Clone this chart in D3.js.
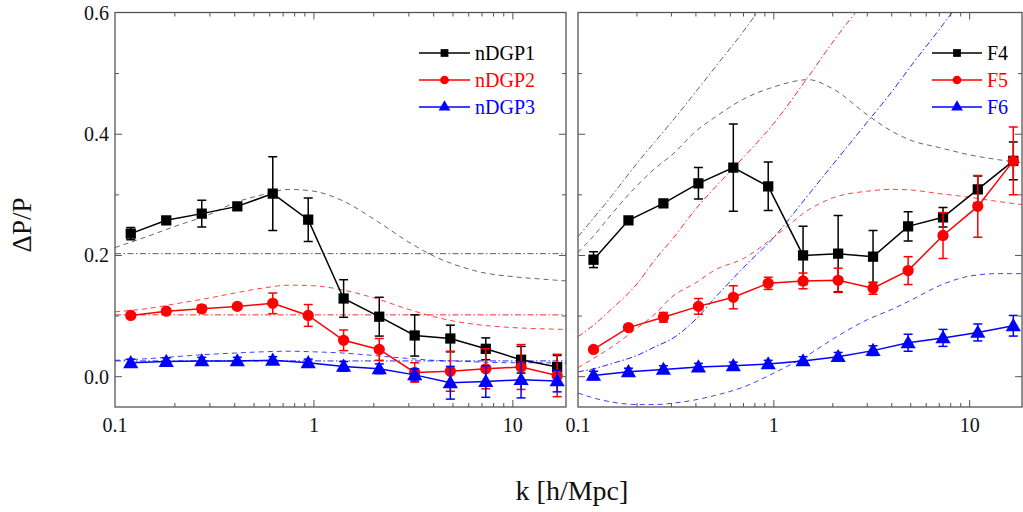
<!DOCTYPE html>
<html><head><meta charset="utf-8">
<script src="https://cdn.jsdelivr.net/npm/d3@7"></script>
<style>body{margin:0;background:#fff}svg{display:block}</style>
</head><body><svg id="c" width="1023" height="512" font-family="Liberation Serif, Times New Roman, DejaVu Serif, serif"></svg>
<script>
// ---- data ----
const k = [0.12, 0.181, 0.273, 0.412, 0.621, 0.936, 1.41, 2.13, 3.21, 4.85, 7.31, 11.0, 16.7];
const nDGP1 = [0.236,0.258,0.269,0.281,0.302,0.259,0.129,0.099,0.068,0.063,0.046,0.028,0.016];
const nDGP1Err = [0.010,0.006,0.022,0.006,0.061,0.036,0.031,0.032,0.034,0.022,0.018,0.022,0.019];
const nDGP2 = [0.101,0.108,0.112,0.116,0.121,0.101,0.060,0.045,0.007,0.009,0.013,0.016,0.002];
const nDGP2Err = [0.004,0.004,0.006,0.005,0.017,0.018,0.017,0.018,0.016,0.033,0.033,0.037,0.035];
const nDGP3 = [0.023,0.025,0.026,0.026,0.027,0.023,0.017,0.013,0.003,-0.010,-0.008,-0.005,-0.007];
const nDGP3Err = [0.006,0.006,0.006,0.006,0.006,0.006,0.008,0.008,0.010,0.027,0.026,0.030,0.018];
const F4 = [0.193,0.258,0.286,0.319,0.345,0.314,0.200,0.203,0.198,0.248,0.263,0.309,0.356];
const F4Err = [0.013,0.006,0.004,0.026,0.072,0.040,0.048,0.063,0.043,0.024,0.016,0.022,0.031];
const F5 = [0.045,0.081,0.098,0.116,0.131,0.154,0.158,0.159,0.146,0.175,0.233,0.281,0.356];
const F5Err = [0.004,0.004,0.008,0.013,0.019,0.010,0.013,0.020,0.010,0.023,0.038,0.051,0.056];
const F6 = [0.002,0.008,0.012,0.016,0.018,0.021,0.026,0.033,0.043,0.056,0.064,0.073,0.084];
const F6Err = [0.007,0.006,0.006,0.006,0.006,0.006,0.007,0.007,0.008,0.014,0.014,0.014,0.017];

// theory curves, left panel
const thKL = [0.1,0.15,0.2,0.3,0.4,0.55,0.75,1.0,1.4,2,3,4,5,7,10,14,18.5];
const nDGP1Theory = [0.213,0.233,0.248,0.268,0.287,0.300,0.309,0.306,0.290,0.260,0.222,0.199,0.186,0.172,0.165,0.161,0.158];
const nDGP2Theory = [0.107,0.113,0.120,0.130,0.138,0.146,0.151,0.150,0.143,0.130,0.111,0.099,0.092,0.085,0.081,0.079,0.078];
const nDGP3Theory = [0.027,0.030,0.033,0.037,0.039,0.041,0.042,0.041,0.039,0.035,0.030,0.027,0.026,0.024,0.023,0.023,0.022];
const nDGPLinear = [0.203, 0.102, 0.026];
// theory curves, right panel
const thKR = [0.1,0.12,0.15,0.2,0.25,0.3,0.4,0.5,0.7,1.0,1.5,2,3,4,5,7,10,14,18.5];
const F4Theory = [0.205,0.232,0.270,0.315,0.345,0.365,0.405,0.428,0.458,0.478,0.490,0.475,0.432,0.405,0.390,0.378,0.366,0.358,0.353];
const F5Theory = [0.015,0.030,0.050,0.080,0.105,0.131,0.155,0.176,0.195,0.230,0.275,0.295,0.306,0.309,0.308,0.302,0.296,0.289,0.284];
const F6Theory = [-0.027,-0.035,-0.042,-0.046,-0.046,-0.044,-0.038,-0.031,-0.017,0.006,0.036,0.062,0.094,0.111,0.126,0.150,0.166,0.170,0.170];
const linK4 = [0.1,0.15,0.2,0.3,0.5,0.7,1.0];
const F4Linear = [0.231,0.300,0.352,0.420,0.510,0.570,0.640];
const linK5 = [0.1,0.12,0.15,0.2,0.25,0.3,0.4,0.5,0.7,1.0,1.5,2,3];
const F5Linear = [0.066,0.085,0.113,0.153,0.195,0.225,0.277,0.312,0.362,0.418,0.495,0.552,0.625];
const linK6 = [0.1,0.12,0.15,0.2,0.25,0.3,0.4,0.5,0.7,1.0,1.5,2,3,4,5,7,10];
const F6Linear = [0.008,0.013,0.022,0.035,0.050,0.062,0.095,0.130,0.180,0.230,0.300,0.350,0.420,0.470,0.512,0.573,0.640];

const xTickVals = [0.1, 1, 10];
const yTickVals = [0.0, 0.2, 0.4, 0.6];
const legendLeft = ["nDGP1","nDGP2","nDGP3"];
const legendRight = ["F4","F5","F6"];
const colors = ["#000000","#ff0000","#0000ff"];
const symbols = [d3.symbolSquare, d3.symbolCircle, d3.symbolTriangle];

// ---- drawing ----
const FONT = "Liberation Serif, Times New Roman, DejaVu Serif, serif";
const svg = d3.select("#c");
svg.append("rect").attr("width",1023).attr("height",512).attr("fill","#fff");
const yTop = 12.5, yBot = 407;
const y = d3.scaleLinear().domain([-0.05, 0.6]).range([yBot, yTop + 0.5]);

function panel(x0, x1, id, series, errs, theory, linear, legend, showY) {
  const x = d3.scaleLog().domain([0.1, 18.5]).range([x0, x1]);
  const g = svg.append("g");
  g.append("clipPath").attr("id", id).append("rect")
    .attr("x", x0).attr("y", yTop).attr("width", x1 - x0).attr("height", yBot - yTop);
  const cg = g.append("g").attr("clip-path", `url(#${id})`);
  const line = d3.line().x(d => x(d[0])).y(d => y(d[1])).curve(d3.curveMonotoneX);
  linear.forEach((L, i) => {
    cg.append("path").attr("d", line(L.k.map((kk, j) => [kk, L.v[j]])))
      .attr("fill","none").attr("stroke", i===0 ? "#444" : colors[i]).attr("stroke-width",1)
      .attr("stroke-opacity",0.85).attr("stroke-dasharray","6,2.5,1.5,2.5");
  });
  theory.forEach((T, i) => {
    cg.append("path").attr("d", line(T.k.map((kk, j) => [kk, T.v[j]])))
      .attr("fill","none").attr("stroke", i===0 ? "#333" : colors[i]).attr("stroke-width",1)
      .attr("stroke-opacity",0.75).attr("stroke-dasharray","5,4");
  });
  const dl = d3.line().x(d => x(d[0])).y(d => y(d[1]));
  series.forEach((s, i) => {
    const c = colors[i];
    const gg = cg.append("g");
    gg.append("path").attr("d", dl(k.map((kk, j) => [kk, s[j]])))
      .attr("fill","none").attr("stroke", c).attr("stroke-width",1.5);
    k.forEach((kk, j) => {
      const px = x(kk), e = errs[i][j];
      const ya = y(s[j] + e), yb = y(s[j] - e);
      gg.append("line").attr("x1",px).attr("x2",px).attr("y1",ya).attr("y2",yb).attr("stroke",c).attr("stroke-width",1.5);
      [ya, yb].forEach(yy => gg.append("line").attr("x1",px-4.5).attr("x2",px+4.5).attr("y1",yy).attr("y2",yy).attr("stroke",c).attr("stroke-width",1.5));
      gg.append("path").attr("transform",`translate(${px},${y(s[j]) + (i===2?1:0)})`)
        .attr("d", d3.symbol().type(symbols[i]).size(i===0?105:100)()).attr("fill", c);
    });
  });
  g.append("rect").attr("x",x0).attr("y",yTop).attr("width",x1-x0).attr("height",yBot-yTop)
    .attr("fill","none").attr("stroke","#555").attr("stroke-width",1.3);
  const minors = [];
  [0.1, 1, 10].forEach(d => { for (let m = 1; m <= 9; m++) { const v = d*m; if (v <= 18.5) minors.push(v); } });
  minors.forEach(v => {
    const maj = xTickVals.includes(+v.toFixed(6));
    const len = maj ? 7 : 4, px = x(v);
    if (px <= x0 + 0.5 || px >= x1 - 0.5) return;
    g.append("line").attr("x1",px).attr("x2",px).attr("y1",yBot).attr("y2",yBot-len).attr("stroke","#555");
    g.append("line").attr("x1",px).attr("x2",px).attr("y1",yTop).attr("y2",yTop+len).attr("stroke","#555");
  });
  xTickVals.forEach(v => {
    g.append("text").attr("x", x(v)).attr("y", 432).attr("text-anchor","middle")
      .attr("font-family",FONT).attr("font-size",20).attr("fill","#111").text(v);
  });
  d3.range(0, 0.61, 0.1).forEach(v => {
    const maj = Math.round(v*10) % 2 === 0;
    const len = maj ? 7 : 4, py = y(v);
    if (py <= yTop + 0.5) return;
    g.append("line").attr("x1",x0).attr("x2",x0+len).attr("y1",py).attr("y2",py).attr("stroke","#555");
    g.append("line").attr("x1",x1).attr("x2",x1-len).attr("y1",py).attr("y2",py).attr("stroke","#555");
  });
  if (showY) {
    yTickVals.forEach(v => {
      g.append("text").attr("x", x0 - 6).attr("y", y(v) + 7).attr("text-anchor","end")
        .attr("font-family",FONT).attr("font-size",20).attr("fill","#111").text(v.toFixed(1));
    });
  }
  legend.forEach((name, i) => {
    const ly = 53 + i * 27;
    const lg = svg.append("g");
    const lxa = showY ? 419 : 932, lxb = showY ? 470 : 982;
    lg.append("line").attr("x1",lxa).attr("x2",lxb).attr("y1",ly).attr("y2",ly).attr("stroke",colors[i]).attr("stroke-width",1.5);
    lg.append("path").attr("transform",`translate(${(lxa+lxb)/2},${ly})`)
      .attr("d", d3.symbol().type(symbols[i]).size(60)()).attr("fill",colors[i]);
    lg.append("text").attr("x", lxb + 5).attr("y", ly + 6.5).attr("font-family",FONT)
      .attr("font-size",20).attr("fill",colors[i]).text(name);
  });
}

panel(115, 566, "clipL", [nDGP1, nDGP2, nDGP3], [nDGP1Err, nDGP2Err, nDGP3Err],
  [{k: thKL, v: nDGP1Theory}, {k: thKL, v: nDGP2Theory}, {k: thKL, v: nDGP3Theory}],
  nDGPLinear.map(v => ({k: [0.1, 18.5], v: [v, v]})), legendLeft, true);
panel(578, 1022, "clipR", [F4, F5, F6], [F4Err, F5Err, F6Err],
  [{k: thKR, v: F4Theory}, {k: thKR, v: F5Theory}, {k: thKR, v: F6Theory}],
  [{k: linK4, v: F4Linear}, {k: linK5, v: F5Linear}, {k: linK6, v: F6Linear}], legendRight, false);

svg.append("text").attr("x", 572).attr("y", 500).attr("text-anchor","middle").attr("font-family",FONT)
  .attr("font-size",28).attr("fill","#111").text("k [h/Mpc]");
svg.append("text").attr("transform","translate(31,225) rotate(-90)").attr("text-anchor","middle").attr("font-family",FONT)
  .attr("font-size",27).attr("fill","#111").text("ΔP/P");
</script></body></html>
